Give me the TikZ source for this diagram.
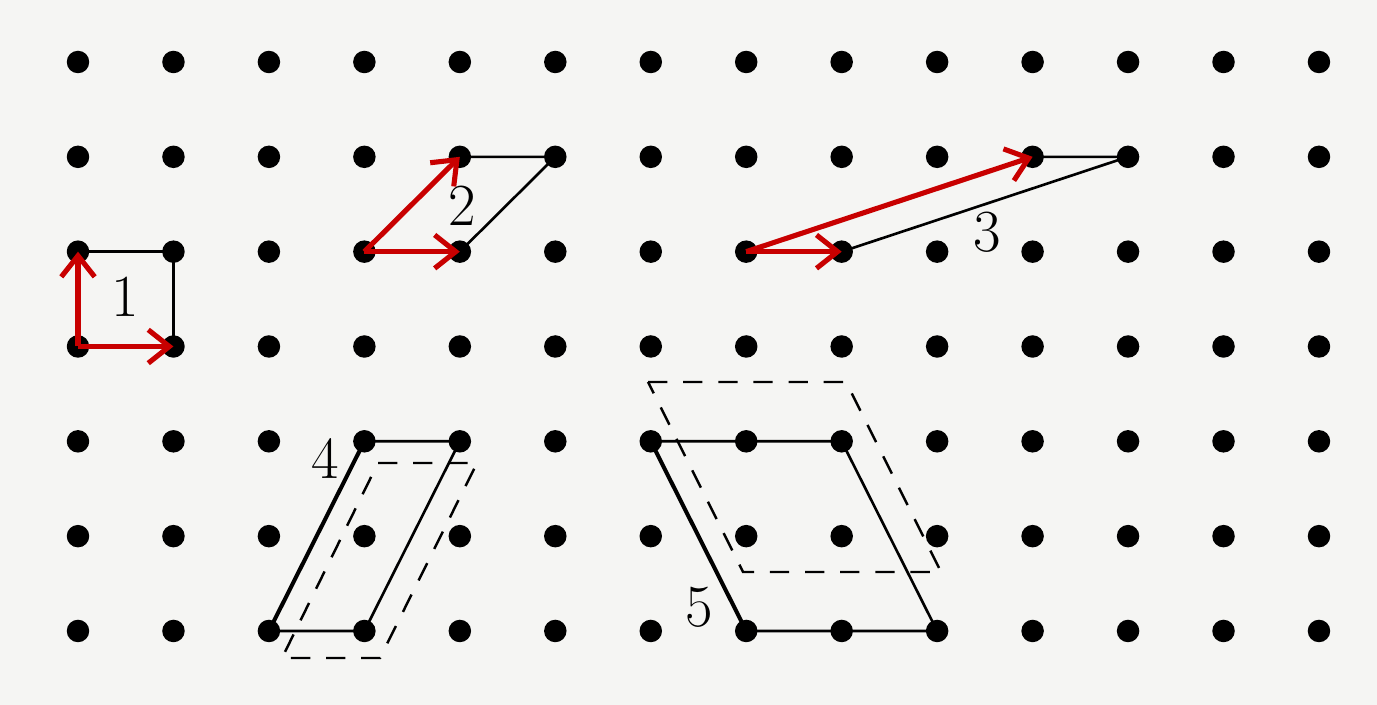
\documentclass[tikz,border=0pt]{standalone}
\usetikzlibrary{arrows.meta}
\definecolor{bgc}{RGB}{245,245,243}
\definecolor{arrred}{RGB}{200,0,0}
\begin{document}
\begin{tikzpicture}[x=0.02cm,y=-0.02cm,
  dot/.style={circle,fill=black,inner sep=0pt,minimum size=0.45cm},
  edgeline/.style={line width=1.5pt,black},
  thickedge/.style={line width=2.3pt,black},
  vec/.style={line width=2.9pt,arrred,-{Straight Barb[length=12pt,width=19pt,line width=2.9pt]}},
  dashedge/.style={line width=1.4pt,black,dash pattern=on 11pt off 9pt},
  lbl/.style={inner sep=0pt,font=\fontsize{34}{40}\selectfont}]
\fill[bgc] (0,0) rectangle (1377,705);
\useasboundingbox (0,0) rectangle (1377,705);
\foreach \i in {0,...,13}{
  \foreach \j in {0,...,6}{
    \node[dot] (d-\i-\j) at ({78+95.46*\i},{62+94.83*\j}) {};
  }
}
% figure 1
\draw[edgeline] (d-0-2.center) -- (d-1-2.center) -- (d-1-3.center);
\draw[vec] (d-0-3.center) -- (d-0-2.center);
\draw[vec] (d-0-3.center) -- (d-1-3.center);
\node[lbl] (l1) at (125,297) {1};
% figure 2
\draw[edgeline] (d-4-1.center) -- (d-5-1.center) -- (d-4-2.center);
\draw[vec] (d-3-2.center) -- (d-4-1.center);
\draw[vec] (d-3-2.center) -- (d-4-2.center);
\node[lbl] (l2) at (462,206) {2};
% figure 3
\draw[edgeline] (d-10-1.center) -- (d-11-1.center) -- (d-8-2.center);
\draw[vec] (d-7-2.center) -- (d-10-1.center);
\draw[vec] (d-7-2.center) -- (d-8-2.center);
\node[lbl] (l3) at (987,232) {3};
% figure 4
\draw[dashedge] (378,463) -- (477,463) -- (380,658) -- (282,658) -- cycle;
\draw[edgeline] (d-3-4.center) -- (d-4-4.center) -- (d-3-6.center) -- (d-2-6.center);
\draw[thickedge] (d-2-6.center) -- (d-3-4.center);
\node[lbl] (l4) at (325,459) {4};
% figure 5
\draw[dashedge] (648,382) -- (846,382) -- (941,572) -- (743,572) -- cycle;
\draw[edgeline] (d-6-4.center) -- (d-7-4.center) -- (d-8-4.center) -- (d-9-6.center) -- (d-8-6.center) -- (d-7-6.center);
\draw[thickedge] (d-6-4.center) -- (d-7-6.center);
\node[lbl] (l5) at (699,607) {5};
\end{tikzpicture}
\end{document}
